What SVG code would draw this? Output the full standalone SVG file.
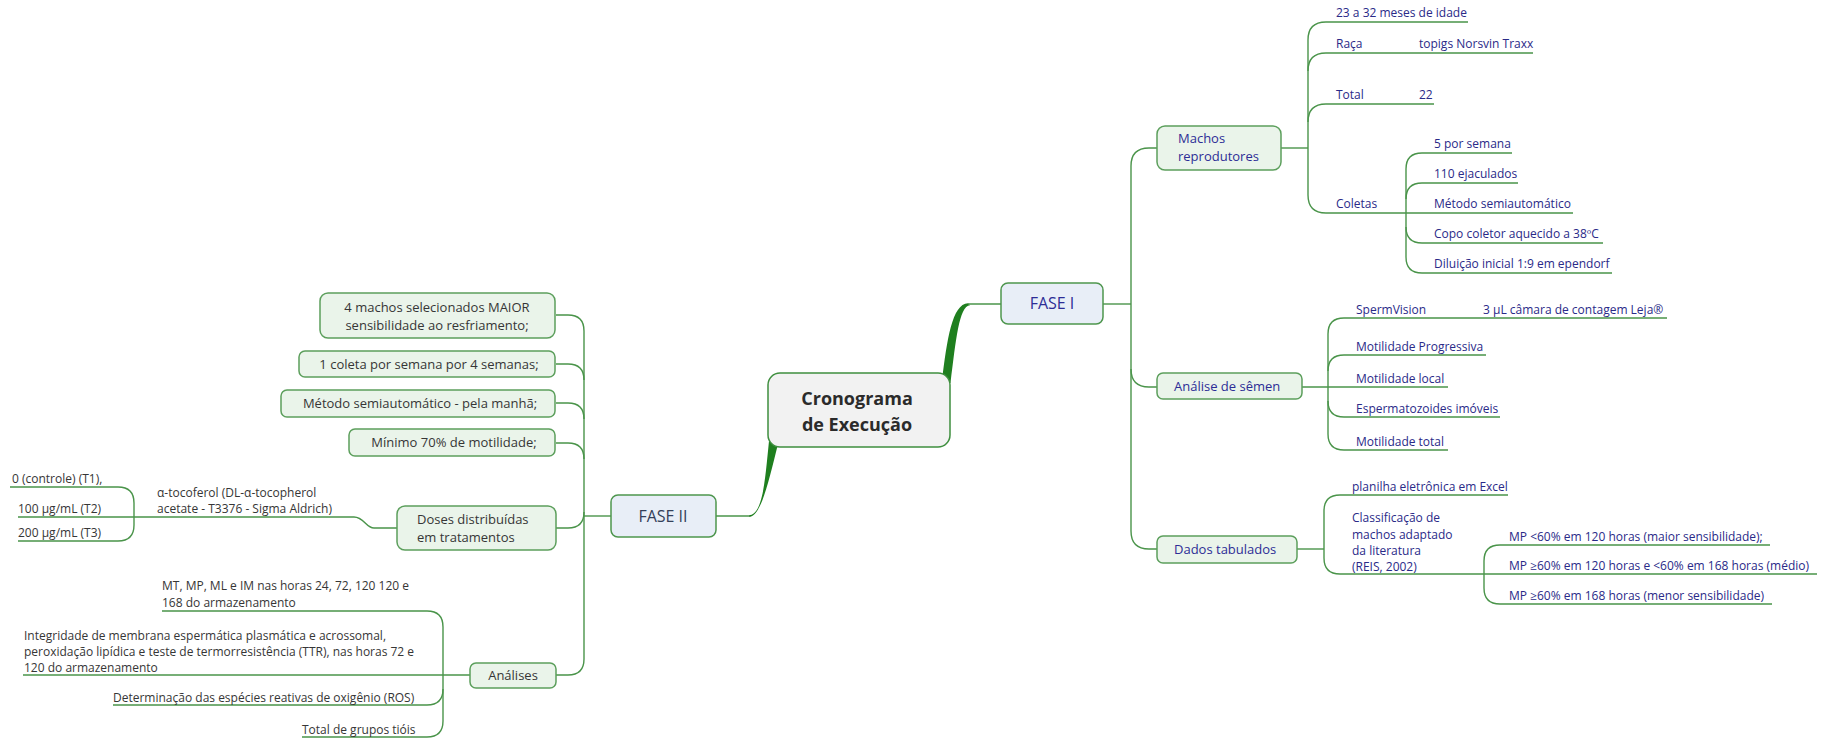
<svg xmlns="http://www.w3.org/2000/svg" width="1831" height="741" viewBox="0 0 1831 741">
<style>
  text { font-family: "Open Sans", "Noto Sans", "Liberation Sans", sans-serif; }
  .c { fill: none; stroke: #4a944a; stroke-width: 1.4; }
  .thick { fill: #1f7f1f; stroke: none; }
  .box { fill: #eaf4ea; stroke: #5c9f5c; stroke-width: 1.5; }
  .fase { fill: #e8eef7; stroke: #4e964e; stroke-width: 1.5; }
  .root { fill: #f2f2f2; stroke: #3f8f3f; stroke-width: 1.5; }
  .rl { font-size: 12px; fill: #2a2a88; }
  .rb { font-size: 13px; fill: #2d2d96; }
  .ll { font-size: 12px; fill: #363636; }
  .lb { font-size: 13px; fill: #363636; }
  .ft { font-size: 16px; }
  .rt { font-size: 18px; font-weight: bold; fill: #2b2b2b; }
</style>

<g id="connectors">
  <!-- thick main branches -->
  <path class="thick" d="M 942 381 C 947 340, 952 304, 968 303.3 L 970 305.2 C 959 306, 956 340, 950.5 383 Z"/>
  <path class="thick" d="M 769 441 C 765 480, 763 514.5, 749 515.3 L 749 516.8 C 761 517, 769 480, 778 444 Z"/>
  <path class="c" d="M 968 304 H 1001"/>
  <path class="c" d="M 716 516 H 750"/>

  <!-- FASE I trunk -->
  <path class="c" d="M 1103 304 H 1131"/>
  <path class="c" d="M 1157 148 H 1149 Q 1131 148 1131 166 V 531 Q 1131 549 1149 549 H 1157"/>
  <path class="c" d="M 1131 369 Q 1131 387 1149 387 H 1157"/>

  <!-- Machos reprodutores -->
  <path class="c" d="M 1281 148 H 1308"/>
  <path class="c" d="M 1468 22 H 1326 Q 1308 22 1308 40 V 195 Q 1308 213 1326 213 H 1573"/>
  <path class="c" d="M 1308 71 Q 1308 53 1326 53 H 1533"/>
  <path class="c" d="M 1308 122 Q 1308 104 1326 104 H 1434"/>
  <path class="c" d="M 1512 153 H 1422 Q 1406 153 1406 169 V 257 Q 1406 273 1422 273 H 1612"/>
  <path class="c" d="M 1406 199 Q 1406 183 1422 183 H 1518"/>
  <path class="c" d="M 1406 227 Q 1406 243 1422 243 H 1603"/>

  <!-- Análise de sêmen -->
  <path class="c" d="M 1302 387 H 1448"/>
  <path class="c" d="M 1667 318 H 1344 Q 1328 318 1328 334 V 434 Q 1328 450 1344 450 H 1448"/>
  <path class="c" d="M 1328 371 Q 1328 355 1344 355 H 1486"/>
  <path class="c" d="M 1328 401 Q 1328 417 1344 417 H 1500"/>

  <!-- Dados tabulados -->
  <path class="c" d="M 1297 549 H 1324"/>
  <path class="c" d="M 1508 495 H 1340 Q 1324 495 1324 511 V 558 Q 1324 574 1340 574 H 1817"/>
  <path class="c" d="M 1770 545 H 1500 Q 1484 545 1484 561 V 588 Q 1484 604 1500 604 H 1772"/>

  <!-- FASE II trunk -->
  <path class="c" d="M 611 516 H 584"/>
  <path class="c" d="M 556 315 H 568 Q 584 315 584 331 V 659 Q 584 675 568 675 H 556"/>
  <path class="c" d="M 556 364 H 568 Q 584 364 584 380"/>
  <path class="c" d="M 556 403 H 568 Q 584 403 584 419"/>
  <path class="c" d="M 556 443 H 568 Q 584 443 584 459"/>
  <path class="c" d="M 556 528 H 568 Q 584 528 584 512"/>

  <!-- Doses -->
  <path class="c" d="M 397 528 H 374 C 366 528, 364 517, 354 517 H 18"/>
  <path class="c" d="M 10 487 H 118 Q 134 487 134 503 V 525 Q 134 541 118 541 H 18"/>

  <!-- Análises -->
  <path class="c" d="M 470 675 H 23"/>
  <path class="c" d="M 162 611 H 427 Q 443 611 443 627 V 721 Q 443 737 427 737 H 302"/>
  <path class="c" d="M 443 689 Q 443 705 427 705 H 113"/>
</g>

<g id="root">
  <rect class="root" x="768" y="373" width="182" height="74" rx="12"/>
  <text class="rt" x="857" y="405" text-anchor="middle">Cronograma</text>
  <text class="rt" x="857" y="431" text-anchor="middle">de Execução</text>
</g>

<g id="fase1">
  <rect class="fase" x="1001" y="283" width="102" height="41" rx="7"/>
  <text class="ft" x="1052" y="309" text-anchor="middle" fill="#2d2d96">FASE I</text>
</g>

<g id="fase2">
  <rect class="fase" x="611" y="495" width="105" height="42" rx="7"/>
  <text class="ft" x="663" y="522" text-anchor="middle" fill="#34405a">FASE II</text>
</g>

<g id="machos">
  <rect class="box" x="1157" y="126" width="124" height="44" rx="8"/>
  <text class="rb" x="1178" y="143">Machos</text>
  <text class="rb" x="1178" y="161">reprodutores</text>
</g>
<g id="idade"><text class="rl" x="1336" y="17">23 a 32 meses de idade</text></g>
<g id="raca"><text class="rl" x="1336" y="48">Raça</text></g>
<g id="raca-v"><text class="rl" x="1419" y="48">topigs Norsvin Traxx</text></g>
<g id="total"><text class="rl" x="1336" y="99">Total</text></g>
<g id="total-v"><text class="rl" x="1419" y="99">22</text></g>
<g id="coletas"><text class="rl" x="1336" y="208">Coletas</text></g>
<g id="col1"><text class="rl" x="1434" y="148">5 por semana</text></g>
<g id="col2"><text class="rl" x="1434" y="178">110 ejaculados</text></g>
<g id="col3"><text class="rl" x="1434" y="208">Método semiautomático</text></g>
<g id="col4"><text class="rl" x="1434" y="238">Copo coletor aquecido a 38ºC</text></g>
<g id="col5"><text class="rl" x="1434" y="268">Diluição inicial 1:9 em ependorf</text></g>

<g id="analise">
  <rect class="box" x="1157" y="373" width="145" height="26" rx="6"/>
  <text class="rb" x="1174" y="391">Análise de sêmen</text>
</g>
<g id="sperm"><text class="rl" x="1356" y="314">SpermVision</text></g>
<g id="leja"><text class="rl" x="1483" y="314">3 µL câmara de contagem Leja®</text></g>
<g id="mp"><text class="rl" x="1356" y="351">Motilidade Progressiva</text></g>
<g id="ml"><text class="rl" x="1356" y="383">Motilidade local</text></g>
<g id="im"><text class="rl" x="1356" y="413">Espermatozoides imóveis</text></g>
<g id="mt"><text class="rl" x="1356" y="446">Motilidade total</text></g>

<g id="dados">
  <rect class="box" x="1157" y="536" width="140" height="27" rx="6"/>
  <text class="rb" x="1174" y="554">Dados tabulados</text>
</g>
<g id="planilha"><text class="rl" x="1352" y="491">planilha eletrônica em Excel</text></g>
<g id="classif">
  <text class="rl" x="1352" y="522">Classificação de</text>
  <text class="rl" x="1352" y="538.5">machos adaptado</text>
  <text class="rl" x="1352" y="555">da literatura</text>
  <text class="rl" x="1352" y="571">(REIS, 2002)</text>
</g>
<g id="mp1"><text class="rl" x="1509" y="541">MP &lt;60% em 120 horas (maior sensibilidade);</text></g>
<g id="mp2"><text class="rl" x="1509" y="570">MP ≥60% em 120 horas e &lt;60% em 168 horas (médio)</text></g>
<g id="mp3"><text class="rl" x="1509" y="600">MP ≥60% em 168 horas (menor sensibilidade)</text></g>

<g id="sel">
  <rect class="box" x="320" y="293" width="235" height="45" rx="8"/>
  <text class="lb" x="437" y="312" text-anchor="middle">4 machos selecionados MAIOR</text>
  <text class="lb" x="437" y="330" text-anchor="middle">sensibilidade ao resfriamento;</text>
</g>
<g id="coleta">
  <rect class="box" x="299" y="351" width="256" height="26" rx="6"/>
  <text class="lb" x="429" y="369" text-anchor="middle">1 coleta por semana por 4 semanas;</text>
</g>
<g id="metodo">
  <rect class="box" x="281" y="390" width="274" height="27" rx="6"/>
  <text class="lb" x="420" y="408" text-anchor="middle">Método semiautomático - pela manhã;</text>
</g>
<g id="minimo">
  <rect class="box" x="349" y="429" width="206" height="27" rx="6"/>
  <text class="lb" x="454" y="447" text-anchor="middle">Mínimo 70% de motilidade;</text>
</g>
<g id="doses">
  <rect class="box" x="397" y="506" width="159" height="44" rx="8"/>
  <text class="lb" x="417" y="524">Doses distribuídas</text>
  <text class="lb" x="417" y="542">em tratamentos</text>
</g>
<g id="toco">
  <text class="ll" x="157" y="497">α-tocoferol (DL-α-tocopherol</text>
  <text class="ll" x="157" y="513">acetate - T3376 - Sigma Aldrich)</text>
</g>
<g id="t1"><text class="ll" x="12" y="483">0 (controle) (T1),</text></g>
<g id="t2"><text class="ll" x="18" y="513">100 µg/mL (T2)</text></g>
<g id="t3"><text class="ll" x="18" y="537">200 µg/mL (T3)</text></g>

<g id="analises">
  <rect class="box" x="470" y="663" width="86" height="25" rx="6"/>
  <text class="lb" x="513" y="680" text-anchor="middle">Análises</text>
</g>
<g id="a1">
  <text class="ll" x="162" y="590">MT, MP, ML e IM nas horas 24, 72, 120 120 e</text>
  <text class="ll" x="162" y="607">168 do armazenamento</text>
</g>
<g id="a2">
  <text class="ll" x="24" y="640">Integridade de membrana espermática plasmática e acrossomal,</text>
  <text class="ll" x="24" y="656">peroxidação lipídica e teste de termorresistência (TTR), nas horas 72 e</text>
  <text class="ll" x="24" y="672">120 do armazenamento</text>
</g>
<g id="a3"><text class="ll" x="113" y="702">Determinação das espécies reativas de oxigênio (ROS)</text></g>
<g id="a4"><text class="ll" x="302" y="734">Total de grupos tióis</text></g>
</svg>
